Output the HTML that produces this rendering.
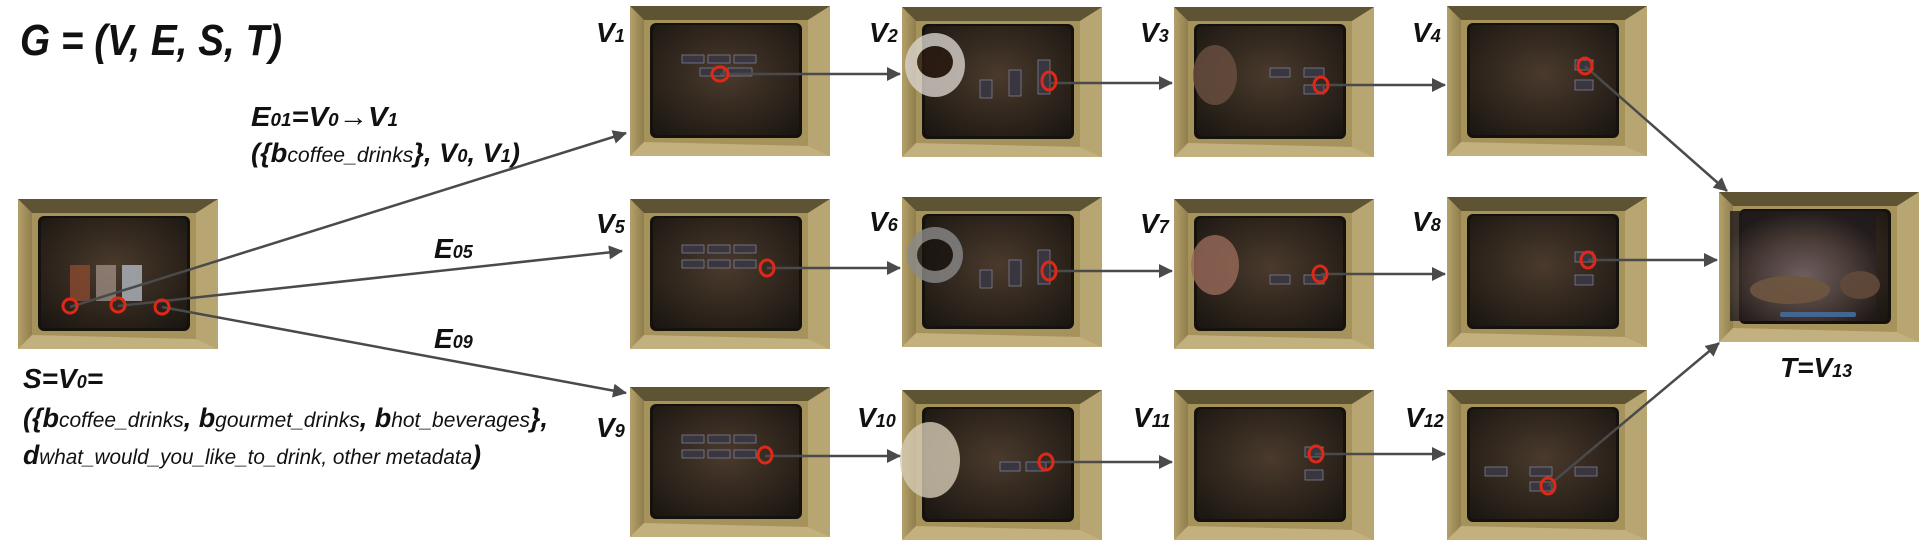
<!DOCTYPE html>
<html><head><meta charset="utf-8"><style>
html,body{margin:0;padding:0;background:#fff;width:1920px;height:546px;overflow:hidden}
svg text{font-family:"Liberation Sans",sans-serif;font-style:italic;fill:#111}
</style></head><body>
<svg width="1920" height="546" viewBox="0 0 1920 546" xmlns="http://www.w3.org/2000/svg">
<defs>
<linearGradient id="side" x1="0" y1="0" x2="1" y2="0"><stop offset="0" stop-color="#b4a06a"/><stop offset="1" stop-color="#8f7e4c"/></linearGradient>
<radialGradient id="scr" cx="0.5" cy="0.45" r="0.7"><stop offset="0" stop-color="#4a3a2c"/><stop offset="1" stop-color="#1c1712"/></radialGradient>
<radialGradient id="beans" cx="0.5" cy="0.6" r="0.6"><stop offset="0" stop-color="#7a6a70"/><stop offset="0.6" stop-color="#4a3c38"/><stop offset="1" stop-color="#1f1a1c"/></radialGradient>
<symbol id="fr" viewBox="0 0 200 150">
<rect width="200" height="150" fill="#a6935c"/>
<polygon points="0,0 200,0 178,14 14,14" fill="#5e5434"/>
<polygon points="0,0 14,14 14,136 0,150" fill="url(#side)"/>
<polygon points="200,0 178,14 178,140 200,150" fill="#b8a672"/>
<polygon points="0,150 14,136 178,140 200,150" fill="#c2b17e"/>
<rect x="20" y="17" width="152" height="115" rx="6" fill="#15110d"/>
<rect x="23" y="19" width="146" height="110" rx="5" fill="url(#scr)"/>
</symbol>
<marker id="ah2" markerWidth="14" markerHeight="14" refX="13" refY="7" orient="auto" markerUnits="userSpaceOnUse" viewBox="0 0 14 14"><path d="M0,0 L14,7 L0,14 Z" fill="#4a4a4a"/></marker>
</defs>

<use href="#fr" x="18" y="199" width="200" height="150"/>
<use href="#fr" x="630" y="6" width="200" height="150"/>
<use href="#fr" x="902" y="7" width="200" height="150"/>
<use href="#fr" x="1174" y="7" width="200" height="150"/>
<use href="#fr" x="1447" y="6" width="200" height="150"/>
<use href="#fr" x="630" y="199" width="200" height="150"/>
<use href="#fr" x="902" y="197" width="200" height="150"/>
<use href="#fr" x="1174" y="199" width="200" height="150"/>
<use href="#fr" x="1447" y="197" width="200" height="150"/>
<use href="#fr" x="630" y="387" width="200" height="150"/>
<use href="#fr" x="902" y="390" width="200" height="150"/>
<use href="#fr" x="1174" y="390" width="200" height="150"/>
<use href="#fr" x="1447" y="390" width="200" height="150"/>
<use href="#fr" x="1719" y="192" width="200" height="150"/>

<g opacity="0.8">
<rect x="70" y="265" width="20" height="36" fill="#8a4a30"/><rect x="96" y="265" width="20" height="36" fill="#9a8a80"/><rect x="122" y="265" width="20" height="36" fill="#b0b8c0"/>
<ellipse cx="935" cy="65" rx="30" ry="32" fill="#d8d2cc"/><ellipse cx="935" cy="62" rx="18" ry="16" fill="#2a1a10"/>
<ellipse cx="935" cy="255" rx="28" ry="28" fill="#8a8a8a"/><ellipse cx="935" cy="255" rx="18" ry="16" fill="#1a1410"/>
<ellipse cx="1215" cy="75" rx="22" ry="30" fill="#6a5040"/>
<ellipse cx="1215" cy="265" rx="24" ry="30" fill="#9a6a5a"/>
<ellipse cx="930" cy="460" rx="30" ry="38" fill="#d6cab4"/>
<rect x="1730" y="211" width="146" height="110" fill="url(#beans)"/>
<ellipse cx="1790" cy="290" rx="40" ry="14" fill="#7a6048"/><ellipse cx="1860" cy="285" rx="20" ry="14" fill="#6a5040"/>
<rect x="1780" y="312" width="76" height="5" rx="2" fill="#4a78b0"/>
</g>
<g fill="#3a3640" stroke="#8888a0" stroke-width="0.7">
<rect x="682" y="55" width="22" height="8"/><rect x="708" y="55" width="22" height="8"/><rect x="734" y="55" width="22" height="8"/><rect x="700" y="68" width="24" height="8"/><rect x="728" y="68" width="24" height="8"/>
<rect x="682" y="245" width="22" height="8"/><rect x="708" y="245" width="22" height="8"/><rect x="734" y="245" width="22" height="8"/><rect x="682" y="260" width="22" height="8"/><rect x="708" y="260" width="22" height="8"/><rect x="734" y="260" width="22" height="8"/>
<rect x="682" y="435" width="22" height="8"/><rect x="708" y="435" width="22" height="8"/><rect x="734" y="435" width="22" height="8"/><rect x="682" y="450" width="22" height="8"/><rect x="708" y="450" width="22" height="8"/><rect x="734" y="450" width="22" height="8"/>
<rect x="980" y="80" width="12" height="18"/><rect x="1009" y="70" width="12" height="26"/><rect x="1038" y="60" width="12" height="34"/>
<rect x="980" y="270" width="12" height="18"/><rect x="1009" y="260" width="12" height="26"/><rect x="1038" y="250" width="12" height="34"/>
<rect x="1270" y="68" width="20" height="9"/><rect x="1304" y="68" width="20" height="9"/><rect x="1304" y="85" width="20" height="9"/>
<rect x="1270" y="275" width="20" height="9"/><rect x="1304" y="275" width="20" height="9"/>
<rect x="1026" y="462" width="20" height="9"/><rect x="1000" y="462" width="20" height="9"/>
<rect x="1575" y="60" width="18" height="10"/><rect x="1575" y="80" width="18" height="10"/>
<rect x="1575" y="252" width="18" height="10"/><rect x="1575" y="275" width="18" height="10"/>
<rect x="1305" y="447" width="18" height="10"/><rect x="1305" y="470" width="18" height="10"/>
<rect x="1485" y="467" width="22" height="9"/><rect x="1530" y="467" width="22" height="9"/><rect x="1575" y="467" width="22" height="9"/><rect x="1530" y="482" width="22" height="9"/>
</g>

<g stroke="#4a4a4a" stroke-width="2.5" fill="none">
<line x1="70" y1="307" x2="626" y2="133" marker-end="url(#ah2)"/>
<line x1="118" y1="306" x2="622" y2="251" marker-end="url(#ah2)"/>
<line x1="162" y1="307" x2="626" y2="393" marker-end="url(#ah2)"/>
<line x1="720" y1="74" x2="900" y2="74" marker-end="url(#ah2)"/>
<line x1="1049" y1="83" x2="1172" y2="83" marker-end="url(#ah2)"/>
<line x1="1321" y1="85" x2="1445" y2="85" marker-end="url(#ah2)"/>
<line x1="1585" y1="66" x2="1727" y2="191" marker-end="url(#ah2)"/>
<line x1="767" y1="268" x2="900" y2="268" marker-end="url(#ah2)"/>
<line x1="1049" y1="271" x2="1172" y2="271" marker-end="url(#ah2)"/>
<line x1="1321" y1="274" x2="1445" y2="274" marker-end="url(#ah2)"/>
<line x1="1588" y1="260" x2="1717" y2="260" marker-end="url(#ah2)"/>
<line x1="765" y1="456" x2="900" y2="456" marker-end="url(#ah2)"/>
<line x1="1046" y1="462" x2="1172" y2="462" marker-end="url(#ah2)"/>
<line x1="1315" y1="454" x2="1445" y2="454" marker-end="url(#ah2)"/>
<line x1="1548" y1="486" x2="1719" y2="343" marker-end="url(#ah2)"/>
</g>
<g stroke="#e02818" stroke-width="3" fill="none">
<ellipse cx="70" cy="306" rx="7" ry="7"/><ellipse cx="118" cy="305" rx="7" ry="7"/><ellipse cx="162" cy="307" rx="7" ry="7"/>
<ellipse cx="720" cy="74" rx="8" ry="7"/><ellipse cx="1049" cy="81" rx="7" ry="9"/><ellipse cx="1321" cy="85" rx="7" ry="8"/><ellipse cx="1585" cy="66" rx="7" ry="8"/>
<ellipse cx="767" cy="268" rx="7" ry="8"/><ellipse cx="1049" cy="271" rx="7" ry="9"/><ellipse cx="1320" cy="274" rx="7" ry="8"/><ellipse cx="1588" cy="260" rx="7" ry="8"/>
<ellipse cx="765" cy="455" rx="7" ry="8"/><ellipse cx="1046" cy="462" rx="7" ry="8"/><ellipse cx="1316" cy="454" rx="7" ry="8"/><ellipse cx="1548" cy="486" rx="7" ry="8"/>
</g>

<text x="20" y="55" font-size="44" font-weight="bold" textLength="262" lengthAdjust="spacingAndGlyphs">G = (V, E, S, T)</text>
<g font-size="28" font-weight="bold">
<text x="596" y="42">V<tspan font-size="18">1</tspan></text>
<text x="869" y="42">V<tspan font-size="18">2</tspan></text>
<text x="1140" y="42">V<tspan font-size="18">3</tspan></text>
<text x="1412" y="42">V<tspan font-size="18">4</tspan></text>
<text x="596" y="233">V<tspan font-size="18">5</tspan></text>
<text x="869" y="231">V<tspan font-size="18">6</tspan></text>
<text x="1140" y="233">V<tspan font-size="18">7</tspan></text>
<text x="1412" y="231">V<tspan font-size="18">8</tspan></text>
<text x="596" y="437">V<tspan font-size="18">9</tspan></text>
<text x="857" y="427">V<tspan font-size="18">10</tspan></text>
<text x="1133" y="427">V<tspan font-size="18">11</tspan></text>
<text x="1405" y="427">V<tspan font-size="18">12</tspan></text>
<text x="1780" y="377">T=V<tspan font-size="18">13</tspan></text>
<text x="251" y="126" textLength="147" lengthAdjust="spacingAndGlyphs">E<tspan font-size="18">01</tspan>=V<tspan font-size="18">0</tspan>→V<tspan font-size="18">1</tspan></text>
<text x="434" y="258">E<tspan font-size="18">05</tspan></text>
<text x="434" y="348">E<tspan font-size="18">09</tspan></text>
<text x="23" y="388">S=V<tspan font-size="18">0</tspan>=</text>
</g>
<g font-size="27" font-weight="bold">
<text x="251" y="162" textLength="269" lengthAdjust="spacingAndGlyphs">({b<tspan font-size="21" font-weight="normal">coffee_drinks</tspan>}, V<tspan font-size="18">0</tspan>, V<tspan font-size="18">1</tspan>)</text>
<text x="23" y="427" textLength="525" lengthAdjust="spacingAndGlyphs">({b<tspan font-size="21" font-weight="normal">coffee_drinks</tspan>, b<tspan font-size="21" font-weight="normal">gourmet_drinks</tspan>, b<tspan font-size="21" font-weight="normal">hot_beverages</tspan>},</text>
<text x="23" y="464" textLength="458" lengthAdjust="spacingAndGlyphs">d<tspan font-size="21" font-weight="normal">what_would_you_like_to_drink, other metadata</tspan>)</text>
</g>
</svg>
</body></html>
